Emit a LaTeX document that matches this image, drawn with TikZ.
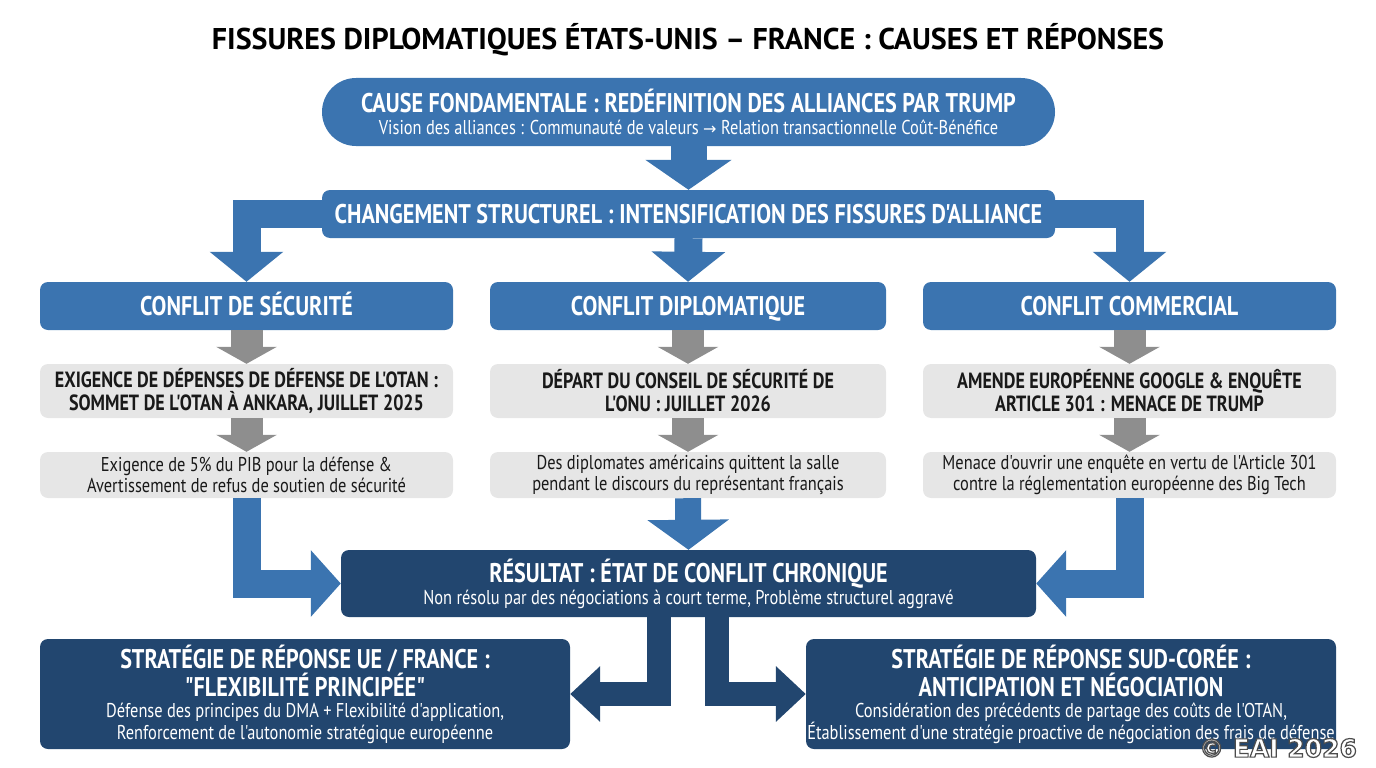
\documentclass[tikz,border=0pt]{standalone}
\usepackage{fontspec}
\setmainfont{PT Sans}[Ligatures=TeXOff]
\newfontfamily\condfont{PT Sans}[FakeStretch=0.82,Ligatures=TeXOff]
\newfontfamily\symfont{DejaVu Sans}
\newfontfamily\markfont{DejaVu Sans}
\usetikzlibrary{arrows.meta}
\newcommand\fixedlines{\setlength{\lineskiplimit}{-100pt}\setlength{\lineskip}{0pt}}

\definecolor{midblue}{HTML}{3B74B0}
\definecolor{navy}{HTML}{22466F}
\definecolor{arrowgray}{HTML}{8E8E8E}
\definecolor{boxgray}{HTML}{E6E6E6}

\begin{document}
\begin{tikzpicture}[x=1pt,y=-1pt,
    bluebox/.style={fill=midblue,rounded corners=8pt,text=white,align=center,inner sep=0pt},
    navybox/.style={fill=navy,rounded corners=8pt,text=white,align=center,inner sep=0pt},
    graybox/.style={fill=boxgray,rounded corners=8pt,text=black!90,align=center,inner sep=0pt},
    head/.style={font=\condfont\bfseries\fontsize{27}{29}\selectfont,text height=19pt,text depth=0pt},
    grayhead/.style={font=\condfont\bfseries\fontsize{22}{23}\selectfont},
    graysub/.style={font=\condfont\fontsize{20}{21}\selectfont},
    twolines/.style={font=\condfont\fontsize{20}{#1}\selectfont\fixedlines},
    bluearrow/.style={draw=midblue,line width=#1},
    navyarrow/.style={draw=navy,line width=#1},
    grayarrow/.style={draw=arrowgray,line width=32pt,-{Triangle[width=60pt,length=17pt]}}]
  % frame of the picture
  \useasboundingbox (0,0) rectangle (1376,768);

  % title
  \node[font=\bfseries\fontsize{30}{32}\selectfont] (title) at (688,40)
    {FISSURES DIPLOMATIQUES ÉTATS-UNIS – FRANCE : CAUSES ET RÉPONSES};

  % cause and structural change
  \node[bluebox,rounded corners=34pt,minimum width=733pt,minimum height=68pt,twolines=22] (cause) at (688.5,112)
    {{\bfseries\fontsize{27}{29}\selectfont CAUSE FONDAMENTALE : REDÉFINITION DES ALLIANCES PAR TRUMP}\\
     Vision des alliances : Communauté de valeurs {\symfont\fontsize{16}{18}\selectfont →} Relation transactionnelle Coût-Bénéfice};
  \node[bluebox,head,minimum width=733pt,minimum height=48pt] (struct) at (688.5,214)
    {CHANGEMENT STRUCTUREL : INTENSIFICATION DES FISSURES D'ALLIANCE};

  % three conflicts
  \node[bluebox,head,minimum width=413pt,minimum height=48pt] (secu) at (246.5,306) {CONFLIT DE SÉCURITÉ};
  \node[bluebox,head,minimum width=396pt,minimum height=48pt] (diplo) at (688,306) {CONFLIT DIPLOMATIQUE};
  \node[bluebox,head,minimum width=413pt,minimum height=48pt] (comm) at (1129.5,306) {CONFLIT COMMERCIAL};

  \node[graybox,grayhead,minimum width=413pt,minimum height=54pt] (secuA) at (246.5,391)
    {EXIGENCE DE DÉPENSES DE DÉFENSE DE L'OTAN :\\SOMMET DE L'OTAN À ANKARA, JUILLET 2025};
  \node[graybox,grayhead,minimum width=396pt,minimum height=54pt] (diploA) at (688,391)
    {DÉPART DU CONSEIL DE SÉCURITÉ DE\\L'ONU : JUILLET 2026};
  \node[graybox,grayhead,minimum width=413pt,minimum height=54pt] (commA) at (1129.5,391)
    {AMENDE EUROPÉENNE GOOGLE \& ENQUÊTE\\ARTICLE 301 : MENACE DE TRUMP};

  \node[graybox,graysub,minimum width=413pt,minimum height=46pt] (secuB) at (246.5,475)
    {Exigence de 5\% du PIB pour la défense \&\\Avertissement de refus de soutien de sécurité};
  \node[graybox,graysub,minimum width=396pt,minimum height=46pt] (diploB) at (688,475)
    {Des diplomates américains quittent la salle\\pendant le discours du représentant français};
  \node[graybox,graysub,minimum width=413pt,minimum height=46pt] (commB) at (1129.5,475)
    {Menace d'ouvrir une enquête en vertu de l'Article 301\\contre la réglementation européenne des Big Tech};

  % result
  \node[navybox,minimum width=695pt,minimum height=67pt,twolines=22] (result) at (688.5,583.5)
    {{\bfseries\fontsize{27}{29}\selectfont RÉSULTAT : ÉTAT DE CONFLIT CHRONIQUE}\\
     Non résolu par des négociations à court terme, Problème structurel aggravé};

  % responses
  \node[navybox,minimum width=530pt,minimum height=110pt,twolines=20] (eufr) at (305,694)
    {{\bfseries\fontsize{27}{29}\selectfont STRATÉGIE DE RÉPONSE UE / FRANCE :}\\[8pt]
     {\bfseries\fontsize{27}{29}\selectfont "FLEXIBILITÉ PRINCIPÉE"}\\[1pt]
     Défense des principes du DMA + Flexibilité d'application,\\[2pt]
     Renforcement de l'autonomie stratégique européenne};
  \node[navybox,minimum width=530pt,minimum height=110pt,twolines=20] (kor) at (1071,694)
    {{\bfseries\fontsize{27}{29}\selectfont STRATÉGIE DE RÉPONSE SUD-CORÉE :}\\[8pt]
     {\bfseries\fontsize{27}{29}\selectfont ANTICIPATION ET NÉGOCIATION}\\[1pt]
     Considération des précédents de partage des coûts de l'OTAN,\\[2pt]
     Établissement d'une stratégie proactive de négociation des frais de défense};

  % blue arrows
  \draw[bluearrow=36pt,-{Triangle[width=85pt,length=30pt]}] (cause.south) -- (struct.north);
  \draw[bluearrow=28pt,-{Triangle[width=72pt,length=30pt]}] (struct.west) -| (secu.north);
  \draw[bluearrow=28pt,-{Triangle[width=72pt,length=30pt]}] (struct.south) -- (diplo.north);
  \draw[bluearrow=28pt,-{Triangle[width=72pt,length=30pt]}] (struct.east) -| (comm.north);

  % gray arrows
  \foreach \col in {secu,diplo,comm} {
    \draw[grayarrow] (\col.south) -- (\col A.north);
    \draw[grayarrow] (\col A.south) -- (\col B.north);
  }

  % into the result
  \draw[bluearrow=28pt,-{Triangle[width=65pt,length=30pt]}] (secuB.south) |- (result.west);
  \draw[bluearrow=26pt,-{Triangle[width=80pt,length=30pt]}] (diploB.south) -- (result.north);
  \draw[bluearrow=28pt,-{Triangle[width=65pt,length=30pt]}] (commB.south) |- (result.east);

  % out to the responses
  \draw[navyarrow=24pt,-{Triangle[width=54pt,length=30pt]}] ([xshift=-30pt]result.south) |- (eufr.east);
  \draw[navyarrow=24pt,-{Triangle[width=54pt,length=30pt]}] ([xshift=28pt]result.south) |- (kor.west);

  % copyright mark, white letters with a dark outline
  \node[text=white,font=\markfont\bfseries\fontsize{25}{25}\selectfont] (copy) at (1278,748)
    {\special{pdf:literal direct 0.3 0.3 0.3 RG 2 Tr 1.2 w}© EAI 2026\special{pdf:literal direct 0 Tr}};
\end{tikzpicture}
\end{document}
